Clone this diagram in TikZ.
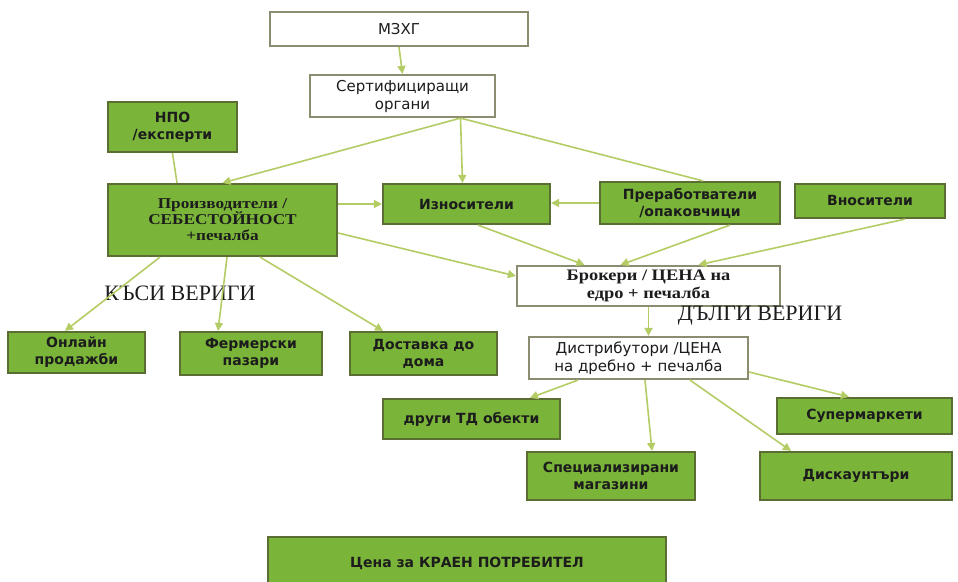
\documentclass[tikz,border=0pt]{standalone}
\usepackage{fontspec}
\setmainfont{Liberation Serif}
\newfontfamily\sansf{DejaVu Sans}
\newfontfamily\wserif[FakeStretch=1.15]{Liberation Serif}
\usetikzlibrary{arrows.meta}
\definecolor{gfill}{RGB}{122,181,58}
\definecolor{gedge}{RGB}{90,110,52}
\definecolor{wedge}{RGB}{140,140,112}
\definecolor{lnc}{RGB}{180,204,100}
\definecolor{txt}{RGB}{28,28,28}
\newcommand{\mybox}[7]{%
  \pgfmathsetmacro\cxx{(#3+#5)/2}\pgfmathsetmacro\cyy{(#4+#6)/2}%
  \pgfmathsetmacro\ww{(#5-#3)*0.5}\pgfmathsetmacro\hh{(#6-#4)*0.5}%
  \node[#1, minimum width=\ww pt, minimum height=\hh pt] (#2) at (\cxx,\cyy) {#7};}
\begin{document}
\begin{tikzpicture}[x=0.5pt,y=-0.5pt,
  gbox/.style={draw=gedge, fill=gfill, line width=1.1pt, inner sep=0pt, align=center, text=txt,
    font=\sansf\bfseries\fontsize{7}{8.5}\selectfont},
  wbox/.style={draw=wedge, fill=white, line width=1.1pt, inner sep=0pt, align=center, text=txt,
    font=\sansf\fontsize{7.5}{9}\selectfont},
  conn/.style={draw=lnc, line width=0.8pt},
  arr/.style={conn, -{Triangle[length=4pt,width=4pt]}},
  lbl/.style={font=\fontsize{11}{12}\selectfont, text=txt}]
\useasboundingbox (0,0) rectangle (958,582);
\clip (0,0) rectangle (958,582);
\fill[white] (0,0) rectangle (958,582);

\mybox{wbox}{mzhg}{270}{12}{528}{46}{МЗХГ}
\mybox{wbox}{cert}{310}{75}{495}{117}{Сертифициращи\\органи}
\mybox{gbox}{npo}{108}{102}{237}{152}{НПО\\/експерти}
\mybox{gbox, font=\wserif\bfseries\fontsize{7.5}{8}\selectfont}{prod}{108}{184}{337}{256}{Производители /\\СЕБЕСТОЙНОСТ\\+печалба}
\mybox{gbox}{izn}{383}{184}{550}{224}{Износители}
\mybox{gbox}{prer}{600}{182}{780}{224}{Преработватели\\/опаковчици}
\mybox{gbox}{vnos}{795}{184}{945}{218}{Вносители}
\mybox{wbox, font=\wserif\bfseries\fontsize{8}{8.8}\selectfont}{brok}{517}{266}{780}{306}{Брокери / ЦЕНА на\\едро + печалба}
\mybox{gbox}{onl}{8}{332}{145}{373}{Онлайн\\продажби}
\mybox{gbox}{ferm}{180}{332}{322}{375}{Фермерски\\пазари}
\mybox{gbox}{dost}{350}{332}{497}{375}{Доставка до\\дома}
\mybox{wbox}{dist}{529}{337}{748}{379}{Дистрибутори /ЦЕНА\\на дребно + печалба}
\mybox{gbox}{drugi}{383}{399}{560}{439}{други ТД обекти}
\mybox{gbox}{super}{777}{398}{952}{434}{Супермаркети}
\mybox{gbox}{spec}{527}{452}{695}{500}{Специализирани\\магазини}
\mybox{gbox}{disk}{760}{452}{952}{500}{Дискаунтъри}
\mybox{gbox}{kraen}{268}{537}{666}{612}{}
\node[font=\sansf\bfseries\fontsize{7}{8.5}\selectfont, text=txt] (kraentxt) at (467,563) {Цена за КРАЕН ПОТРЕБИТЕЛ};

\node[lbl] (kasi) at (180,293) {КЪСИ ВЕРИГИ};
\node[lbl] (dalgi) at (760,316) {ДЪЛГИ ВЕРИГИ};

% connectors
\draw[arr] (mzhg.south) -- (cert.north);
\draw[arr] ([xshift=29pt]cert.south) -- (prod.north);
\draw[arr] ([xshift=29pt]cert.south) -- ([xshift=-2pt]izn.north);
\draw[conn] ([xshift=29pt]cert.south) -- ([xshift=6.5pt]prer.north);
\draw[conn] (npo.south) -- ([xshift=-22.75pt]prod.north);
\draw[arr] (prod.east |- izn.west) -- (izn.west);
\draw[arr] (prer.west) -- (prer.west -| izn.east);
\draw[arr] ([yshift=-6.5pt]prod.east) -- ([yshift=5pt]brok.west);
\draw[arr] ([xshift=5.75pt]izn.south) -- ([xshift=-32pt]brok.north);
\draw[arr] ([xshift=20pt]prer.south) -- ([xshift=-14pt]brok.north);
\draw[arr] ([xshift=17.5pt]vnos.south) -- ([xshift=25pt]brok.north);
\draw[arr] ([xshift=-31.25pt]prod.south) -- ([xshift=-5.75pt]onl.north);
\draw[arr] ([xshift=2.25pt]prod.south) -- ([xshift=-16.5pt]ferm.north);
\draw[arr] ([xshift=18.75pt]prod.south) -- ([xshift=-20.25pt]dost.north);
\draw[arr] (brok.south) -- (brok.south |- dist.north);
\draw[arr] ([xshift=-30.25pt]dist.south) -- ([xshift=29.25pt]drugi.north);
\draw[arr] ([xshift=3.25pt]dist.south) -- ([xshift=20.5pt]spec.north);
\draw[arr] ([xshift=25.75pt]dist.south) -- ([xshift=-32.5pt]disk.north);
\draw[arr] ([yshift=-7pt]dist.east) -- ([xshift=-7.75pt]super.north);
\end{tikzpicture}
\end{document}
